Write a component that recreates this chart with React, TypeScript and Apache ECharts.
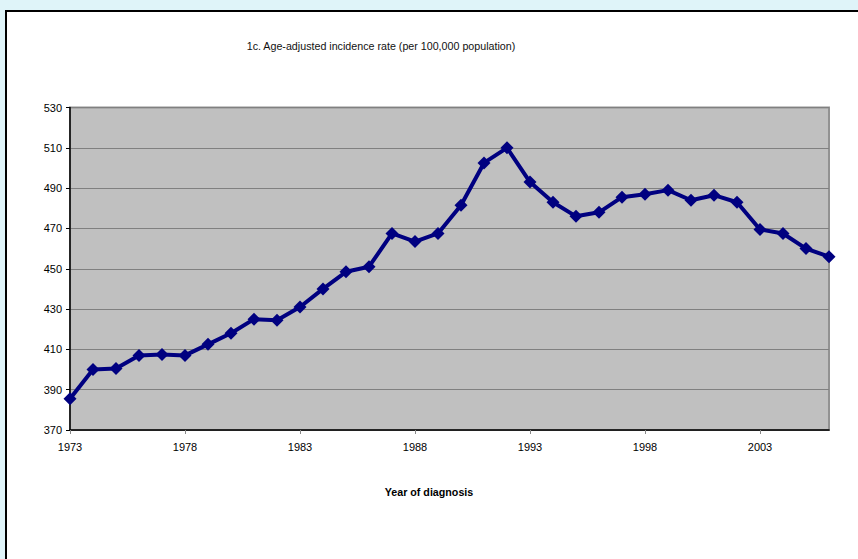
import React, { useEffect, useRef } from "react";
import * as echarts from "echarts";

const years: string[] = [
  "1973", "1974", "1975", "1976", "1977", "1978", "1979", "1980", "1981", "1982",
  "1983", "1984", "1985", "1986", "1987", "1988", "1989", "1990", "1991", "1992",
  "1993", "1994", "1995", "1996", "1997", "1998", "1999", "2000", "2001", "2002",
  "2003", "2004", "2005", "2006",
];
const incidence: number[] = [
  385.5, 400, 400.5, 407, 407.5, 407, 412.5, 418, 425, 424.5,
  431, 440, 448.5, 451, 467.5, 463.5, 467.5, 481.5, 502.5, 510,
  493, 483, 476, 478, 485.5, 487, 489, 484, 486.5, 483,
  469.5, 467.5, 460, 456,
];
const yMin = 370;
const yMax = 530;
const yStep = 20;
const titleText = "1c. Age-adjusted incidence rate (per 100,000 population)";
const xName = "Year of diagnosis";

const FONT = "'Liberation Sans', Arial, sans-serif";

export default function App() {
  const ref = useRef<HTMLDivElement>(null);
  useEffect(() => {
    if (!ref.current) return;
    const chart = echarts.init(ref.current, null, { renderer: "svg" });
    chart.setOption({
      animation: false,
      backgroundColor: "#DFF4F9",
      textStyle: { fontFamily: FONT },
      title: {
        text: titleText,
        left: 376,
        top: 35,
        textAlign: "center",
        textStyle: { fontFamily: FONT, fontSize: 10.7, fontWeight: "normal", color: "#111" },
      },
      graphic: [
        {
          type: "rect",
          z: -10,
          shape: { x: 6, y: 11, width: 870, height: 570 },
          style: { fill: "#ffffff", stroke: "#000000", lineWidth: 2 },
        },
        {
          type: "text",
          x: 429,
          y: 492,
          style: {
            text: xName,
            fill: "#000",
            font: `bold 10.7px ${FONT}`,
            textAlign: "center",
            textVerticalAlign: "middle",
          },
        },
      ],
      grid: {
        left: 70,
        top: 107.5,
        right: 29,
        bottom: 129,
        show: true,
        backgroundColor: "#C0C0C0",
        borderColor: "#929292",
        borderWidth: 2,
      },
      xAxis: {
        type: "category",
        data: years,
        boundaryGap: false,
        axisLine: { show: true, lineStyle: { color: "#000", width: 1.5 } },
        axisTick: { show: true, interval: 4, length: 4, lineStyle: { color: "#888" } },
        axisLabel: { interval: 4, color: "#000", fontSize: 11, margin: 11, fontFamily: FONT },
        splitLine: { show: false },
      },
      yAxis: {
        type: "value",
        min: yMin,
        max: yMax,
        interval: yStep,
        axisLine: { show: true, lineStyle: { color: "#000", width: 1.5 } },
        axisTick: { show: true, length: 4, lineStyle: { color: "#000" } },
        axisLabel: { color: "#000", fontSize: 11, margin: 8, fontFamily: FONT },
        splitLine: { show: true, lineStyle: { color: "#808080", width: 1 } },
      },
      series: [
        {
          type: "line",
          data: incidence,
          symbol: "diamond",
          symbolSize: 13,
          itemStyle: { color: "#000080" },
          lineStyle: { color: "#000080", width: 4 },
        },
      ],
    });
    return () => chart.dispose();
  }, []);
  return (
    <div
      ref={ref}
      style={{ position: "fixed", left: 0, top: 0, width: 858, height: 559 }}
    />
  );
}
